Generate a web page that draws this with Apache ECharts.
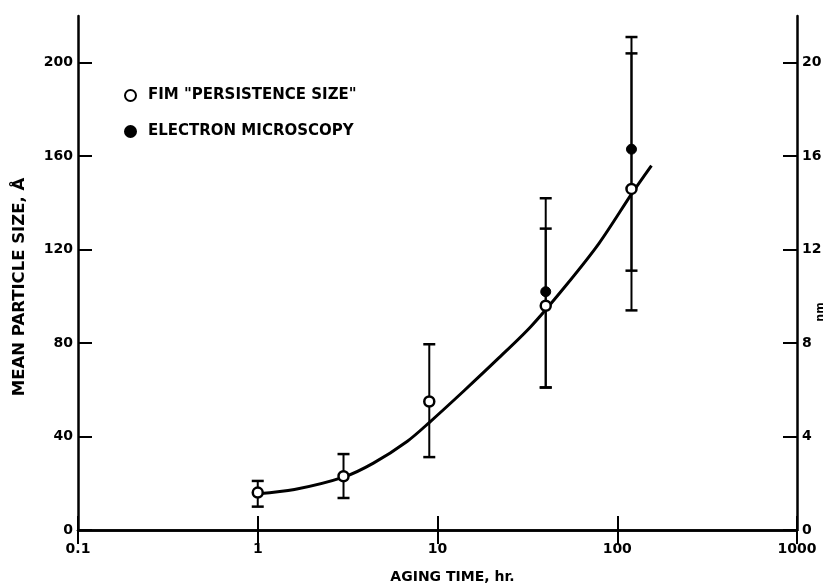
<!DOCTYPE html>
<html>
<head>
<meta charset="utf-8">
<script src="https://cdn.jsdelivr.net/npm/echarts@6/dist/echarts.min.js"></script>
<style>html,body{margin:0;padding:0;background:#fff;overflow:hidden}#c{width:828px;height:587px}</style>
</head>
<body>
<div id="c"></div>
<script>
// Aging time (hr) and sizes (Å)
var fimX = [1, 3, 9, 40, 120];
var fimY = [16, 23, 55, 96, 146];
var fimHi = [21, 32.5, 79.5, 129, 204];
var fimLo = [10, 13.7, 31.2, 61, 111];

var emX = [40, 120];
var emY = [102, 163];
var emHi = [142, 211];
var emLo = [61, 94];

var curveX = [1, 1.6, 3, 4.4, 6.8, 9, 14, 21.5, 33, 51, 79, 122, 155];
var curveY = [15.5, 17.3, 22.6, 28.6, 38, 46, 59.5, 73, 87, 104, 122.6, 144.6, 156];

var xTickLabels = ['0.1', '1', '10', '100', '1000'];
var leftTicks = [0, 40, 80, 120, 160, 200];
var rightTicks = [0, 4, 8, 12, 16, 20];

var FONT = 'DejaVu Sans';

function zip(a, b) { return a.map(function (v, i) { return [v, b[i]]; }); }
function zip3(a, b, c) { return a.map(function (v, i) { return [v, b[i], c[i]]; }); }

function errRender(params, api) {
  var x = api.value(0), lo = api.value(1), hi = api.value(2);
  var pLo = api.coord([x, lo]);
  var pHi = api.coord([x, hi]);
  var w = 6;
  return {
    type: 'group',
    children: [
      { type: 'line', shape: { x1: pLo[0], y1: pLo[1], x2: pHi[0], y2: pHi[1] }, style: { stroke: '#000', lineWidth: 2 } },
      { type: 'line', shape: { x1: pLo[0] - w, y1: pLo[1], x2: pLo[0] + w, y2: pLo[1] }, style: { stroke: '#000', lineWidth: 2.5 } },
      { type: 'line', shape: { x1: pHi[0] - w, y1: pHi[1], x2: pHi[0] + w, y2: pHi[1] }, style: { stroke: '#000', lineWidth: 2.5 } }
    ]
  };
}

var chart = echarts.init(document.getElementById('c'), null, { renderer: 'canvas' });

var labelStyle = { color: '#000', fontFamily: FONT, fontWeight: 'bold', fontSize: 14 };

chart.setOption({
  animation: false,
  backgroundColor: '#fff',
  grid: { left: 78, right: 31, top: 16, bottom: 57, containLabel: false, outerBoundsMode: 'none' },
  legend: {
    left: 119, top: 83, orient: 'vertical', itemGap: 21,
    itemWidth: 11, itemHeight: 11,
    data: ['FIM "PERSISTENCE SIZE"', 'ELECTRON MICROSCOPY'],
    textStyle: { color: '#000', fontFamily: FONT, fontWeight: 'bold', fontSize: 15, padding: [0, 0, 0, 7] }
  },
  graphic: [
    {
      type: 'text', x: 820, y: 312, rotation: Math.PI / 2,
      style: { text: 'nm', fill: '#000', font: 'bold 11px "DejaVu Sans"', textAlign: 'center', textVerticalAlign: 'middle' }
    }
  ],
  xAxis: [
    {
      type: 'log', logBase: 10, min: 0.1, max: 1000, position: 'bottom',
      axisLine: { show: true, lineStyle: { color: '#000', width: 2.5 } },
      axisTick: { show: true, inside: true, length: 14, lineStyle: { color: '#000', width: 2 } },
      minorTick: { show: false },
      splitLine: { show: false },
      axisLabel: Object.assign({ margin: 12, formatter: function (v) {
        var k = Math.round(Math.log10(v)) + 1; return xTickLabels[k] || '';
      } }, labelStyle),
      name: 'AGING TIME, hr.', nameLocation: 'middle', nameGap: 40,
      nameTextStyle: { color: '#000', fontFamily: FONT, fontWeight: 'bold', fontSize: 14, padding: [0, 0, 0, 30] }
    },
    {
      type: 'log', logBase: 10, min: 0.1, max: 1000, position: 'top',
      axisLine: { show: true, lineStyle: { color: '#000', width: 2.5 } },
      axisTick: { show: true, inside: true, length: 14, lineStyle: { color: '#000', width: 2 } },
      minorTick: { show: false },
      splitLine: { show: false },
      axisLabel: { show: false }
    }
  ],
  yAxis: [
    {
      type: 'value', min: 0, max: 220, interval: 40, position: 'left',
      axisLine: { show: true, lineStyle: { color: '#000', width: 2.5 } },
      axisTick: { show: true, inside: true, length: 14, lineStyle: { color: '#000', width: 2 } },
      splitLine: { show: false },
      axisLabel: Object.assign({ margin: 5, showMaxLabel: false, formatter: function (v) {
        return leftTicks.indexOf(v) >= 0 ? String(v) : '';
      } }, labelStyle),
      name: 'MEAN PARTICLE SIZE, Å', nameLocation: 'middle', nameGap: 50, nameRotate: 90,
      nameTextStyle: { color: '#000', fontFamily: FONT, fontWeight: 'bold', fontSize: 16.5, padding: [0, 28, 0, 0] }
    },
    {
      type: 'value', min: 0, max: 22, interval: 4, position: 'right',
      axisLine: { show: true, lineStyle: { color: '#000', width: 2.5 } },
      axisTick: { show: true, inside: true, length: 14, lineStyle: { color: '#000', width: 2 } },
      splitLine: { show: false },
      axisLabel: Object.assign({ margin: 5, showMaxLabel: false, formatter: function (v) {
        return rightTicks.indexOf(v) >= 0 ? String(v) : '';
      } }, labelStyle)
    }
  ],
  series: [
    {
      name: 'curve', type: 'line', xAxisIndex: 0, yAxisIndex: 0,
      data: zip(curveX, curveY), smooth: 0.3, showSymbol: false, symbol: 'none',
      lineStyle: { color: '#000', width: 3 }, silent: true, z: 2
    },
    {
      name: 'fimErr', type: 'custom', xAxisIndex: 0, yAxisIndex: 0,
      data: zip3(fimX, fimLo, fimHi), renderItem: errRender, silent: true, z: 3
    },
    {
      name: 'emErr', type: 'custom', xAxisIndex: 0, yAxisIndex: 0,
      data: zip3(emX, emLo, emHi), renderItem: errRender, silent: true, z: 3
    },
    {
      name: 'ELECTRON MICROSCOPY', type: 'scatter', xAxisIndex: 0, yAxisIndex: 0,
      data: zip(emX, emY), symbol: 'circle', symbolSize: 10,
      itemStyle: { color: '#000', borderColor: '#000', borderWidth: 1, opacity: 1 }, z: 5
    },
    {
      name: 'FIM "PERSISTENCE SIZE"', type: 'scatter', xAxisIndex: 0, yAxisIndex: 0,
      data: zip(fimX, fimY), symbol: 'circle', symbolSize: 10,
      itemStyle: { color: '#fff', borderColor: '#000', borderWidth: 2.5, opacity: 1 }, z: 6
    }
  ]
});
</script>
</body>
</html>
